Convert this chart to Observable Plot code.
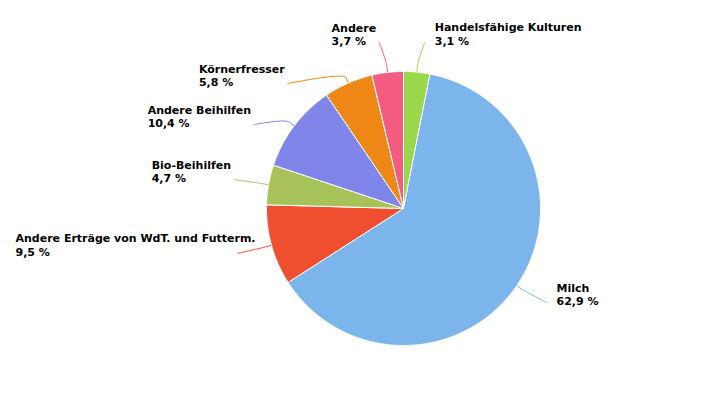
<!DOCTYPE html>
<html><head><meta charset="utf-8">
<script src="https://cdn.jsdelivr.net/npm/d3@7"></script>
<script src="https://cdn.jsdelivr.net/npm/@observablehq/plot@0.6"></script>
<style>body{margin:0;background:#fff} #chart{width:725px;height:400px}</style>
</head><body><div id="chart"></div>
<script>
// ---- data ----
const categories = ["Handelsfähige Kulturen", "Milch", "Andere Erträge von WdT. und Futterm.", "Bio-Beihilfen", "Andere Beihilfen", "Körnerfresser", "Andere"];
const values = [3.1, 62.9, 9.5, 4.7, 10.4, 5.8, 3.7];
const valueLabels = ["3,1 %", "62,9 %", "9,5 %", "4,7 %", "10,4 %", "5,8 %", "3,7 %"];
const colors = ["#98d84a", "#7cb5ec", "#f04f2f", "#a8c25a", "#8085e9", "#ef8717", "#f45b80"];

// ---- layout ----
const W = 725, H = 400, CX = 403, CY = 208, R = 137;
const LABEL_DIST = 30, BREAK_DIST = 6, MIN_GAP = 41;
const FONT = "bold 11px 'DejaVu Sans'";

const arcs = d3.pie().sort(null).value(d => d)(values);
const pt = (a, rad) => [CX + rad * Math.sin(a), CY - rad * Math.cos(a)];

// slice polygons
const slicePts = [];
arcs.forEach((a, i) => {
  const n = Math.max(4, Math.ceil((a.endAngle - a.startAngle) / 0.005));
  slicePts.push({k: categories[i], x: CX, y: CY});
  for (let j = 0; j <= n; j++) {
    const t = a.startAngle + (a.endAngle - a.startAngle) * j / n;
    const [x, y] = pt(t, R);
    slicePts.push({k: categories[i], x, y});
  }
  slicePts.push({k: categories[i], x: CX, y: CY});
});

// label placement
const ctx = document.createElement("canvas").getContext("2d");
ctx.font = FONT;
const labels = arcs.map((a, i) => {
  const mid = (a.startAngle + a.endAngle) / 2;
  const [, ny] = pt(mid, R + LABEL_DIST);
  return {i, mid, side: mid < Math.PI ? 1 : -1, y: ny};
});
[1, -1].forEach(side => {
  const s = labels.filter(l => l.side === side).sort((a, b) => a.y - b.y);
  for (let j = 1; j < s.length; j++) s[j].y = Math.max(s[j].y, s[j - 1].y + MIN_GAP);
});
const RL = R + LABEL_DIST;
labels.forEach(l => {
  const dy = l.y - CY;
  const dx = Math.sqrt(Math.max(0, RL * RL - dy * dy));
  l.cx = CX + l.side * (dx + 5);
  const w = Math.max(ctx.measureText(categories[l.i]).width, ctx.measureText(valueLabels[l.i]).width);
  l.tx = l.side > 0 ? l.cx + 10 : Math.max(15, l.cx - 3 - w);
  l.ty = l.y - 12.5 - 0.71 * 11;
  l.text = categories[l.i] + "\n" + valueLabels[l.i];
});

// connectors (soft connector: cubic bezier then straight to slice)
const connPts = [];
labels.forEach(l => {
  const [bx, by] = pt(l.mid, R + BREAK_DIST);
  const [tx, ty] = pt(l.mid, R);
  const p0 = [l.cx, l.y], p1 = [l.cx, l.y], p2 = [2 * bx - tx, 2 * by - ty], p3 = [bx, by];
  const N = 24;
  for (let j = 0; j <= N; j++) {
    const t = j / N, u = 1 - t;
    const x = u*u*u*p0[0] + 3*u*u*t*p1[0] + 3*u*t*t*p2[0] + t*t*t*p3[0];
    const y = u*u*u*p0[1] + 3*u*u*t*p1[1] + 3*u*t*t*p2[1] + t*t*t*p3[1];
    connPts.push({k: categories[l.i], x, y});
  }
  connPts.push({k: categories[l.i], x: tx, y: ty});
});

const plot = Plot.plot({
  width: W, height: H,
  margin: 0,
  x: {domain: [0, W], range: [0, W], axis: null},
  y: {domain: [0, H], range: [0, H], axis: null},
  color: {domain: categories, range: colors},
  style: {fontFamily: "'DejaVu Sans', sans-serif", background: "#fff"},
  marks: [
    Plot.line(connPts, {x: "x", y: "y", z: "k", stroke: "k", strokeWidth: 1, curve: "linear"}),
    Plot.line(slicePts, {x: "x", y: "y", z: "k", fill: "k", stroke: "#fff", strokeWidth: 1, strokeLinejoin: "round", curve: "linear"}),
    Plot.text(labels, {x: "tx", y: "ty", text: "text", textAnchor: "start", lineAnchor: "top", lineHeight: 1.2,
      fontSize: 11, fontWeight: "bold", fill: "#000"})
  ]
});
document.getElementById("chart").appendChild(plot);
</script>
</body></html>
